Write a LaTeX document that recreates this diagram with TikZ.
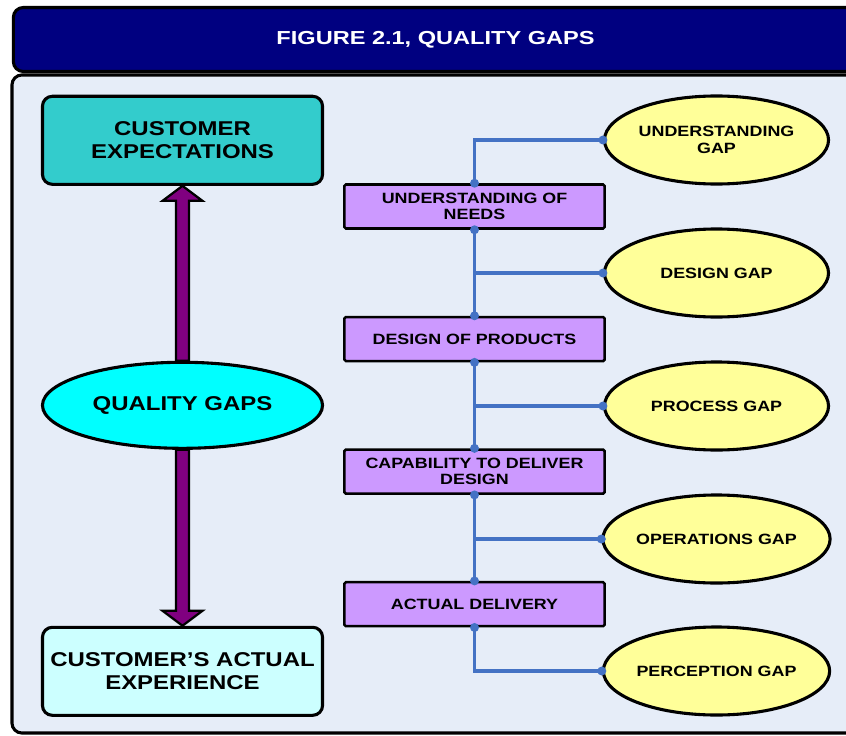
\documentclass[tikz,border=0pt]{standalone}
\usepackage{fontspec}
\setmainfont{Liberation Sans}
\newfontfamily\wideface[FakeStretch=1.2]{Liberation Sans}
\newfontfamily\titleface[FakeStretch=1.25]{Liberation Sans}
\usetikzlibrary{arrows.meta,positioning,shapes.geometric,calc}
\definecolor{navybar}{RGB}{0,0,128}
\definecolor{panelblue}{RGB}{230,237,248}
\definecolor{tealbox}{RGB}{51,204,204}
\definecolor{hubcyan}{RGB}{0,255,255}
\definecolor{paleaqua}{RGB}{204,255,255}
\definecolor{stagepurple}{RGB}{204,153,255}
\definecolor{gapyellow}{RGB}{255,255,153}
\definecolor{arrowpurple}{RGB}{128,0,128}
\definecolor{linkblue}{RGB}{68,114,196}
\tikzset{
    titlebar/.style = {draw=black, line width=2.2pt, fill=navybar, text=white,
            minimum width=21.1cm, minimum height=1.6cm, rounded corners=7pt,
            font=\titleface\fontsize{13.4}{15}\selectfont\bfseries},
    expbox/.style   = {draw=black, line width=2.2pt, rounded corners=7pt,
            minimum width=7cm, minimum height=2.2cm, align=center,
            font=\wideface\fontsize{14.2}{16.3}\selectfont\bfseries},
    hub/.style      = {ellipse, draw=black, line width=2.2pt, fill=hubcyan,
            minimum width=7cm, minimum height=2.15cm, inner sep=0pt,
            font=\wideface\fontsize{14.2}{16.3}\selectfont\bfseries},
    stage/.style    = {draw=black, line width=1.8pt, fill=stagepurple,
            minimum width=6.5cm, minimum height=1.1cm, align=center,
            rounded corners=1pt, inner sep=1pt,
            font=\wideface\fontsize{10.6}{11.6}\selectfont\bfseries},
    gapoval/.style  = {ellipse, draw=black, line width=2.2pt, fill=gapyellow,
            minimum width=5.6cm, minimum height=2.2cm, inner sep=0pt, align=center,
            font=\wideface\fontsize{10.6}{11.6}\selectfont\bfseries},
    fatarrow/.style = {draw=black, line width=1.6pt, fill=arrowpurple, line join=miter},
    link/.style     = {draw=linkblue, line width=2.2pt},
    joint/.style    = {fill=linkblue},
}
\begin{document}
\begin{tikzpicture}[x=0.025cm, y=-0.025cm, node distance=2.15cm and 0cm]
    % Frame
    \useasboundingbox (0,0) rectangle (846,735);
    \fill[white] (0,0) rectangle (846,735);
    \clip (0,0) rectangle (846,735);
    \draw[line width=2.2pt, fill=panelblue, rounded corners=7pt] (12,75) rectangle (900,733);
    \node[titlebar] (title) at (435.5,39.5) {FIGURE 2.1, QUALITY GAPS};

    % Left column
    \node[expbox, fill=tealbox] (expect) at (182.5,140.3) {CUSTOMER\\EXPECTATIONS};
    \node[hub] (hub) at (182.5,405.3) {QUALITY GAPS};
    \node[expbox, fill=paleaqua] (actual) at (182.5,671.3) {CUSTOMER’S ACTUAL\\EXPERIENCE};

    % Stages
    \node[stage] (needs) at (474.5,206.5) {UNDERSTANDING OF\\NEEDS};
    \node[stage, below=of needs] (design) {DESIGN OF PRODUCTS};
    \node[stage, below=of design] (capable) {CAPABILITY TO DELIVER\\DESIGN};
    \node[stage, below=of capable] (deliver) {ACTUAL DELIVERY};

    % Gaps
    \node[gapoval] (gUnder) at (716.5,140) {UNDERSTANDING\\GAP};
    \node[gapoval] (gDesign) at (716.5,273) {DESIGN GAP};
    \node[gapoval] (gProcess) at (716.5,406) {PROCESS GAP};
    \node[gapoval] (gOps) at (716.5,539) {OPERATIONS GAP};
    \node[gapoval] (gPercept) at (716.5,671) {PERCEPTION GAP};

    % Fat arrows
    \draw[fatarrow] (expect.south) -- ++(20,15) -- ++(-13.5,0)
        -- ($(hub.north)+(6.5,0)$) -- ++(-13,0)
        -- ($(expect.south)+(-6.5,15)$) -- ++(-13.5,0) -- cycle;
    \draw[fatarrow] (actual.north) -- ++(20,-15) -- ++(-13.5,0)
        -- ($(hub.south)+(6.5,0)$) -- ++(-13,0)
        -- ($(actual.north)+(-6.5,-15)$) -- ++(-13.5,0) -- cycle;

    % Links
    \draw[link] (needs.north) |- (gUnder.west);
    \draw[link] (needs.south) -- (design.north);
    \draw[link] (needs.south |- gDesign.west) -- (gDesign.west);
    \draw[link] (design.south) -- (capable.north);
    \draw[link] (design.south |- gProcess.west) -- (gProcess.west);
    \draw[link] (capable.south) -- (deliver.north);
    \draw[link] (capable.south |- gOps.west) -- (gOps.west);
    \draw[link] (deliver.south) |- (gPercept.west);
    \foreach \p in {needs.north, needs.south, design.north, design.south,
            capable.north, capable.south, deliver.north, deliver.south,
            gUnder.west, gDesign.west, gProcess.west, gOps.west, gPercept.west}
        \fill[joint] (\p) circle (4.5);
\end{tikzpicture}
\end{document}
